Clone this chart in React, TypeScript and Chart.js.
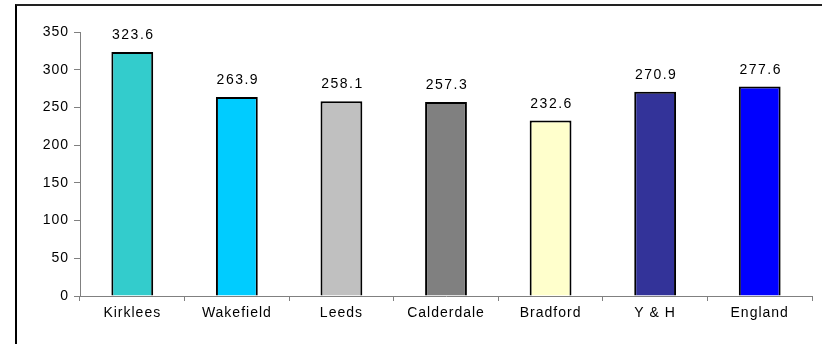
import React, { useEffect, useRef } from 'react';
import { Chart, registerables } from 'chart.js';

Chart.register(...registerables);

const categories = ['Kirklees', 'Wakefield', 'Leeds', 'Calderdale', 'Bradford', 'Y & H', 'England'];
const values = [323.6, 263.9, 258.1, 257.3, 232.6, 270.9, 277.6];
const barColors = ['#33CCCC', '#00CCFF', '#C0C0C0', '#808080', '#FFFFCC', '#333399', '#0000FF'];
const yMin = 0;
const yMax = 350;
const yStep = 50;

const FONT = "'Liberation Sans', Arial, sans-serif";

const textSpacing = {
  id: 'textSpacing',
  beforeDraw(chart: any) {
    (chart.ctx as any).letterSpacing = '1px';
  },
};

const valueLabels = {
  id: 'valueLabels',
  afterDatasetsDraw(chart: any) {
    const ctx = chart.ctx;
    const meta = chart.getDatasetMeta(0);
    ctx.save();
    ctx.font = `14px ${FONT}`;
    (ctx as any).letterSpacing = '1.5px';
    ctx.fillStyle = '#000';
    ctx.textAlign = 'center';
    ctx.textBaseline = 'alphabetic';
    meta.data.forEach((bar: any, i: number) => {
      ctx.fillText(values[i].toFixed(1), bar.x + 1, bar.y - 13);
    });
    ctx.restore();
  },
};

export default function App() {
  const ref = useRef<HTMLCanvasElement>(null);
  useEffect(() => {
    if (!ref.current) return;
    const chart = new Chart(ref.current, {
      type: 'bar',
      data: {
        labels: categories,
        datasets: [
          {
            data: values,
            backgroundColor: barColors,
            borderColor: '#000',
            borderWidth: 2,
            barPercentage: 0.4,
            categoryPercentage: 1,
          },
        ],
      },
      options: {
        responsive: false,
        animation: false,
        devicePixelRatio: 1,
        layout: { padding: { top: 32, right: 10, left: 0, bottom: 0 } },
        plugins: { legend: { display: false }, tooltip: { enabled: false } },
        scales: {
          x: {
            afterFit(scale: any) {
              scale.height = 48;
            },
            grid: {
              offset: true,
              drawOnChartArea: false,
              drawTicks: true,
              tickLength: 5,
              color: '#808080',
            },
            border: { color: '#808080', width: 1 },
            ticks: { color: '#000', font: { family: FONT, size: 14 }, padding: 4, maxRotation: 0 },
          },
          y: {
            min: yMin,
            max: yMax,
            afterFit(scale: any) {
              scale.width = 80;
            },
            grid: {
              drawOnChartArea: false,
              drawTicks: true,
              tickLength: 6,
              color: '#808080',
            },
            border: { color: '#808080', width: 1 },
            ticks: { stepSize: yStep, color: '#000', font: { family: FONT, size: 14 }, padding: 5 },
          },
        },
      },
      plugins: [textSpacing, valueLabels],
    });
    return () => chart.destroy();
  }, []);
  return (
    <div style={{ position: 'absolute', left: 0, top: 0, width: 822, height: 344, overflow: 'hidden', background: '#fff' }}>
      <canvas ref={ref} width={822} height={344} style={{ position: 'absolute', left: 0, top: 0 }} />
      <div
        style={{
          position: 'absolute',
          left: 15,
          top: 4,
          width: 900,
          height: 400,
          borderLeft: '2px solid #000',
          borderTop: '2px solid #222',
          pointerEvents: 'none',
        }}
      />
    </div>
  );
}
